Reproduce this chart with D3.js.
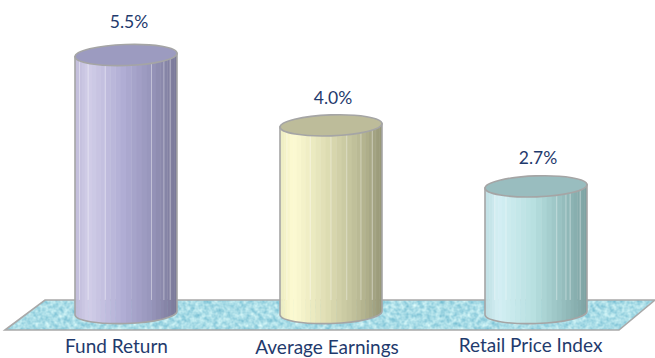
<!DOCTYPE html>
<html>
<head>
<meta charset="utf-8">
<script src="https://cdn.jsdelivr.net/npm/d3@7/dist/d3.min.js"></script>
<style>
  html, body { margin: 0; padding: 0; background: #fff; }
  svg { display: block; }
  text { font-family: Lato, "Open Sans", sans-serif; fill: #1f3a6d; text-anchor: middle; }
</style>
</head>
<body>
<svg id="chart" width="655" height="358"></svg>
<script>
// Annual growth figures shown as three cylinders standing on a textured floor.
const categories = ["Fund Return", "Average Earnings", "Retail Price Index"];
const values = [5.5, 4.0, 2.7];
const valueLabels = ["5.5%", "4.0%", "2.7%"];

// Body shading (left edge, highlight, middle, shade, right edge) and lid colour.
const bodyRamps = [
  ["#bdb8d8", "#d2cee8", "#b0add4", "#9896bc", "#797897"],
  ["#ecebbf", "#fdfbd3", "#dddcb2", "#bfbf99", "#979777"],
  ["#bcdde1", "#d4eff4", "#b8e0e0", "#98c1c1", "#7ca1a1"]
];
const lidColours = ["#9c9bc0", "#bdbc9a", "#99bdbf"];

const width = 655, height = 358;
const radiusX = 51, radiusY = 10.5, sliceCount = 30;
const tiltDegrees = -2;
const floorTop = 300, floorBottom = 330;
const outline = "#a5a5a5";

const svg = d3.select("#chart");
const x = d3.scalePoint().domain(categories).range([126, 536]);
const y = d3.scaleLinear().domain([0, 5.5]).range([313, 55]);

const defs = svg.append("defs");

// Mottled water-like surface for the floor.
const floorFilter = defs.append("filter").attr("id", "floorTexture")
  .attr("x", 0).attr("y", 0).attr("width", 1).attr("height", 1)
  .attr("color-interpolation-filters", "sRGB");
floorFilter.append("feTurbulence")
  .attr("type", "fractalNoise").attr("baseFrequency", 0.22)
  .attr("numOctaves", 2).attr("seed", 7).attr("result", "noise");
floorFilter.append("feColorMatrix").attr("in", "noise").attr("type", "matrix")
  .attr("values", "0.5 0 0 0 0.415  0.3 0 0 0 0.715  0.2 0 0 0 0.805  0 0 0 0 1")
  .attr("result", "tint");
floorFilter.append("feComposite").attr("in", "tint").attr("in2", "SourceAlpha").attr("operator", "in");

const floorPoints = [[5, floorBottom], [45, floorTop], [655, floorTop], [619, floorBottom]];
svg.append("polygon")
  .attr("points", floorPoints.join(" "))
  .attr("fill", "#a9dde6")
  .attr("filter", "url(#floorTexture)");
svg.append("polygon")
  .attr("points", floorPoints.join(" "))
  .attr("fill", "none").attr("stroke", "#a9a9a9").attr("stroke-width", 1.6);

// Slice edges sit at equal angles around the cylinder, so they crowd towards the sides.
const sliceEdges = d3.range(sliceCount + 1).map(i => -Math.cos(Math.PI * i / sliceCount));
const rampStops = [0, 0.13, 0.47, 0.74, 1];
// Slices that carry a thin bright seam along their left edge.
const seams = [[4, 7, 11, 20, 23, 25], [5, 11, 15, 18, 21, 24], [6, 9, 19, 21, 22, 25]];
const rise = radiusX * Math.sin(-tiltDegrees * Math.PI / 180);

values.forEach((v, i) => {
  const cx = x(categories[i]);
  const top = y(v), base = y(0);
  const colour = d3.scaleLinear().domain(rampStops).range(bodyRamps[i]);
  const g = svg.append("g");

  const bodyPath = `M${cx - radiusX},${top + rise}L${cx - radiusX},${base + rise}` +
    `A${radiusX},${radiusY} ${tiltDegrees} 0 0 ${cx + radiusX},${base - rise}L${cx + radiusX},${top - rise}Z`;

  defs.append("clipPath").attr("id", "body" + i).append("path").attr("d", bodyPath);

  const slices = g.append("g").attr("clip-path", `url(#body${i})`);
  slices.selectAll("rect").data(d3.range(sliceCount)).join("rect")
    .attr("x", s => cx + radiusX * sliceEdges[s])
    .attr("width", s => radiusX * (sliceEdges[s + 1] - sliceEdges[s]) + 0.4)
    .attr("y", top - radiusY - rise)
    .attr("height", base - top + 2 * radiusY + 2 * rise + 2)
    .attr("fill", s => colour((sliceEdges[s] + sliceEdges[s + 1]) / 4 + 0.5));

  slices.selectAll("line").data(seams[i]).join("line")
    .attr("x1", s => cx + radiusX * sliceEdges[s])
    .attr("x2", s => cx + radiusX * sliceEdges[s])
    .attr("y1", top).attr("y2", floorTop)
    .attr("stroke", "#fff").attr("stroke-opacity", 0.38).attr("stroke-width", 1);

  g.append("path").attr("d", bodyPath)
    .attr("fill", "none").attr("stroke", outline).attr("stroke-width", 1.6);

  g.append("ellipse")
    .attr("transform", `rotate(${tiltDegrees} ${cx} ${top})`)
    .attr("cx", cx).attr("cy", top).attr("rx", radiusX).attr("ry", radiusY)
    .attr("fill", lidColours[i]).attr("stroke", outline).attr("stroke-width", 1.6);
});

// Value labels float just above each lid.
const valueLift = [27, 21, 22];
const valueShift = [3, 2, 2];
svg.selectAll("text.value").data(valueLabels).join("text")
  .attr("class", "value")
  .attr("x", (d, i) => x(categories[i]) + valueShift[i])
  .attr("y", (d, i) => y(values[i]) - valueLift[i])
  .attr("font-size", 17.5)
  .text(d => d);

// Category captions are staggered slightly below the floor.
const captionPlacement = [[-9.5, 353], [-4, 353.5], [-5.5, 352]];
svg.selectAll("text.caption").data(categories).join("text")
  .attr("class", "caption")
  .attr("x", (d, i) => x(d) + captionPlacement[i][0])
  .attr("y", (d, i) => captionPlacement[i][1])
  .attr("font-size", 19)
  .text(d => d);
</script>
</body>
</html>
